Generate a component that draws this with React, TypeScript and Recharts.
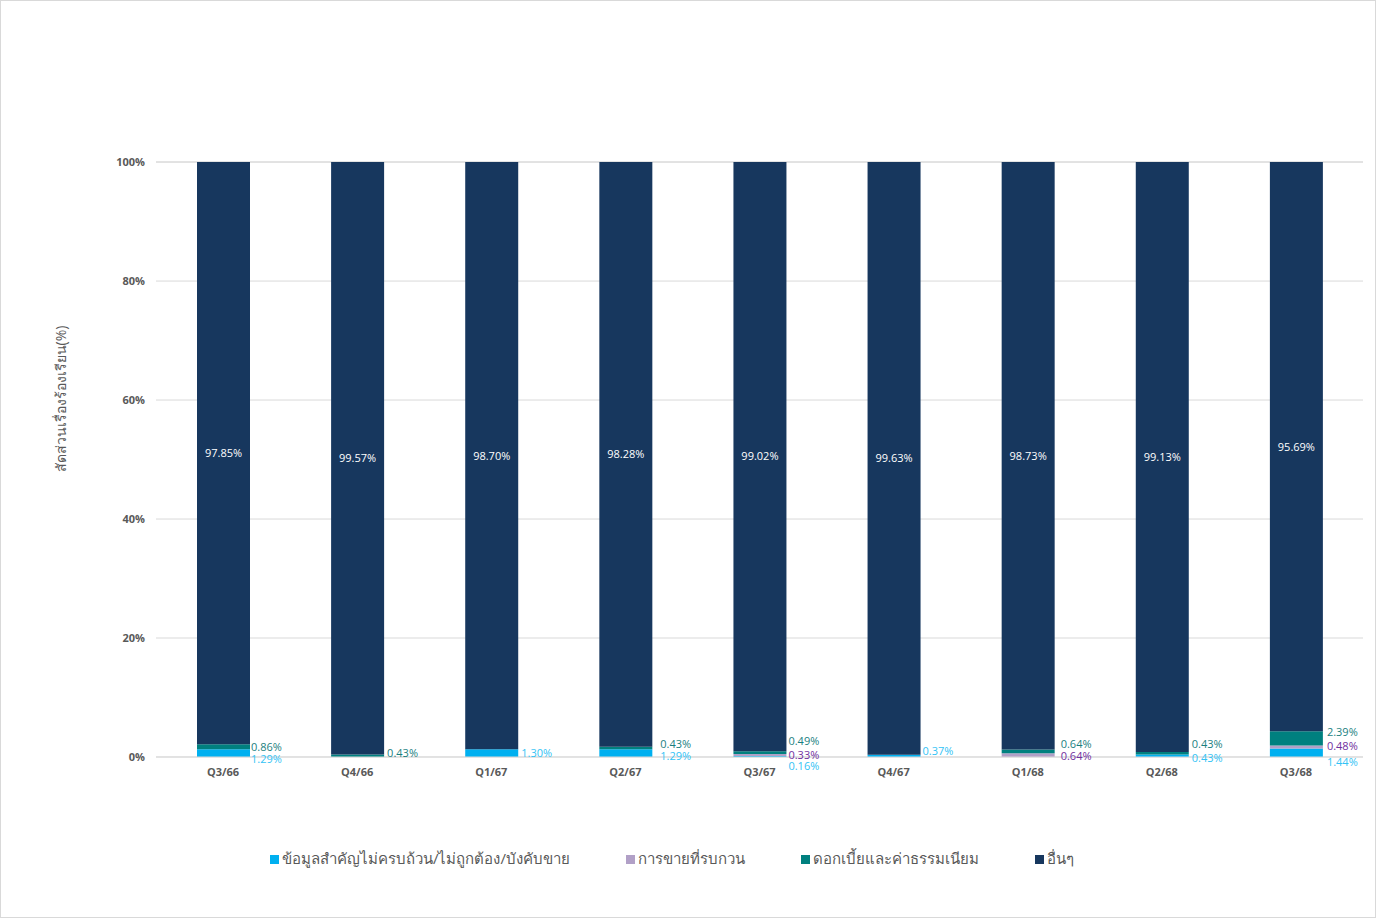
import { BarChart, Bar, XAxis, YAxis, CartesianGrid, LabelList } from "recharts";

const quarters = ["Q3/66", "Q4/66", "Q1/67", "Q2/67", "Q3/67", "Q4/67", "Q1/68", "Q2/68", "Q3/68"];
const infoVals = [1.29, 0, 1.3, 1.29, 0.16, 0.37, 0, 0.43, 1.44];
const salesVals = [0, 0, 0, 0, 0.33, 0, 0.64, 0, 0.48];
const feeVals = [0.86, 0.43, 0, 0.43, 0.49, 0, 0.64, 0.43, 2.39];
const otherVals = [97.85, 99.57, 98.7, 98.28, 99.02, 99.63, 98.73, 99.13, 95.69];
const yTicks = [0, 20, 40, 60, 80, 100];

const SERIES = [
  { key: "info", name: "ข้อมูลสำคัญไม่ครบถ้วน/ไม่ถูกต้อง/บังคับขาย", color: "#00B0F0", label: "#33C3F5" },
  { key: "sales", name: "การขายที่รบกวน", color: "#B1A0C7", label: "#7030A0" },
  { key: "fees", name: "ดอกเบี้ยและค่าธรรมเนียม", color: "#00807F", label: "#1B7F7F" },
  { key: "other", name: "อื่นๆ", color: "#17375E", label: "#FFFFFF" },
];

// label nudges so the small labels don't collide (dy in px)
const infoDy = [6, 0, 0, 3, 10, -5, 0, 2, 9];
const salesDy = [0, 0, 0, 0, 0, 0, 1, 0, -1];
const feeDy = [0, -3, 0, -4, -11, 0, -7, -9, -6];
const labelDx = [1, 3, 3, 8, 2, 2, 6, 3, 4];

const data = quarters.map((q, i) => ({
  name: q,
  idx: i,
  info: infoVals[i],
  sales: salesVals[i],
  fees: feeVals[i],
  other: otherVals[i],
}));

const FONT = "'Open Sans', 'Noto Sans', sans-serif";

// value passed in is the row index, so zero-height bars can't shift the nudges
const sideLabel = (color: string, vals: number[], dys: number[]) => (props: any) => {
  const { x, y, width, height, value } = props;
  const i = Number(value);
  if (!vals[i]) return null;
  const cx = Number(x) + Number(width) + labelDx[i];
  const cy = Number(y) + Number(height) / 2 + dys[i];
  return (
    <text x={cx} y={cy} dy="0.35em" fill={color} fontSize={11} fontFamily={FONT} textAnchor="start">
      {vals[i].toFixed(2)}%
    </text>
  );
};

const innerLabel = (props: any) => {
  const { x, y, width, height, value } = props;
  return (
    <text x={Number(x) + Number(width) / 2} y={Number(y) + Number(height) / 2} dy="0.35em" fill="#fff" fontSize={11} fontFamily={FONT} textAnchor="middle">
      {value.toFixed(2)}%
    </text>
  );
};

export default function App() {
  return (
    <div style={{ position: "fixed", left: 0, top: 0, width: 1376, height: 918, background: "#fff", boxSizing: "border-box", border: "1px solid #d9d9d9", fontFamily: FONT }}>
      <BarChart width={1374} height={916} data={data} margin={{ top: 161, right: 12, left: 1, bottom: 130 }}>
        <CartesianGrid vertical={false} stroke="#d9d9d9" />
        <XAxis dataKey="name" axisLine={{ stroke: "#d9d9d9" }} tickLine={false} height={30} dy={3}
          tick={{ fill: "#595959", fontSize: 11, fontWeight: 700, fontFamily: FONT }} />
        <YAxis domain={[0, 100]} ticks={yTicks} width={154} axisLine={false} tickLine={false} dx={-3}
          tickFormatter={(v) => `${v}%`} tick={{ fill: "#595959", fontSize: 11, fontWeight: 700, fontFamily: FONT }} />
        <Bar dataKey="info" stackId="a" fill={SERIES[0].color} barSize={53} isAnimationActive={false}>
          <LabelList dataKey="idx" content={sideLabel(SERIES[0].label, infoVals, infoDy)} />
        </Bar>
        <Bar dataKey="sales" stackId="a" fill={SERIES[1].color} barSize={53} isAnimationActive={false}>
          <LabelList dataKey="idx" content={sideLabel(SERIES[1].label, salesVals, salesDy)} />
        </Bar>
        <Bar dataKey="fees" stackId="a" fill={SERIES[2].color} barSize={53} isAnimationActive={false}>
          <LabelList dataKey="idx" content={sideLabel(SERIES[2].label, feeVals, feeDy)} />
        </Bar>
        <Bar dataKey="other" stackId="a" fill={SERIES[3].color} barSize={53} isAnimationActive={false}>
          <LabelList dataKey="other" content={innerLabel} />
        </Bar>
      </BarChart>
      <div style={{ position: "absolute", left: 60, top: 398, transform: "translate(-50%, -50%) rotate(-90deg)", whiteSpace: "nowrap", fontSize: 14, color: "#595959" }}>
        สัดส่วนเรื่องร้องเรียน(%)
      </div>
      <div style={{ position: "absolute", left: 0, width: 1342, top: 846, display: "flex", justifyContent: "center", gap: 56, fontSize: 15, color: "#595959" }}>
        {SERIES.map((s) => (
          <div key={s.key} style={{ display: "flex", alignItems: "center", gap: 3 }}>
            <span style={{ width: 9, height: 9, background: s.color, display: "inline-block" }} />
            <span>{s.name}</span>
          </div>
        ))}
      </div>
    </div>
  );
}
